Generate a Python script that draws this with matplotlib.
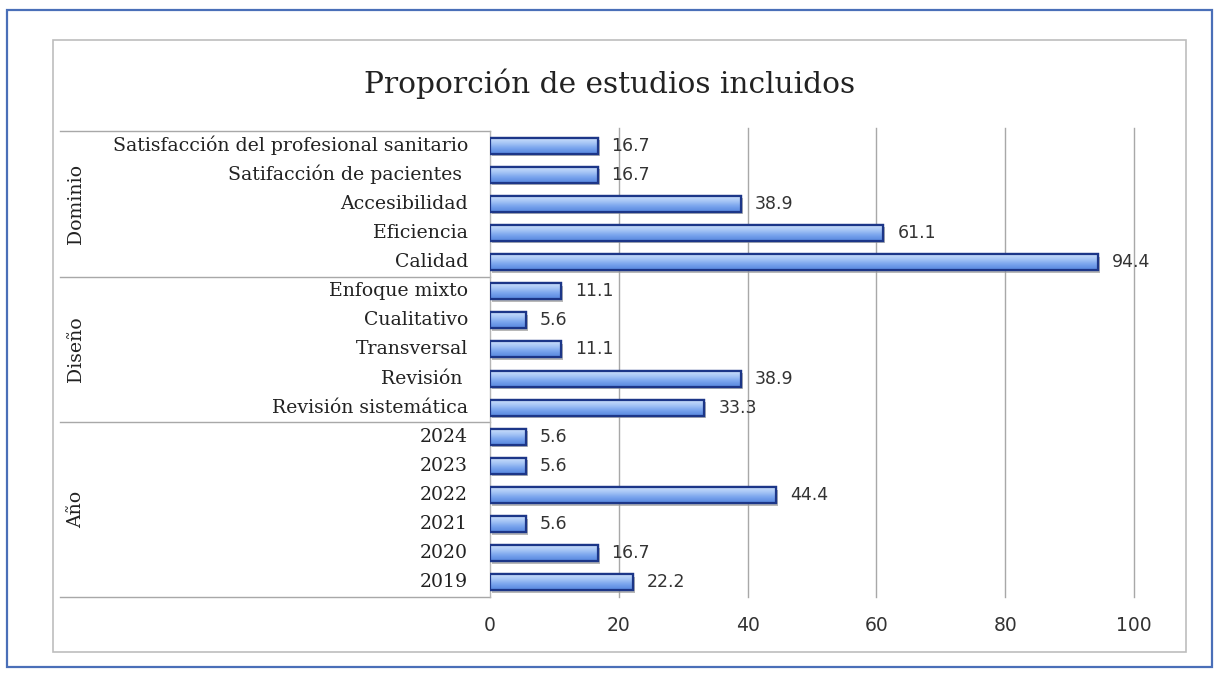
import matplotlib
matplotlib.use("Agg")
import matplotlib.pyplot as plt
import matplotlib.transforms as mtransforms
from matplotlib.patches import Rectangle
import numpy as np

title = "Proporción de estudios incluidos"
groups = ["Dominio", "Diseño", "Año"]
dominio_labels = ["Satisfacción del profesional sanitario", "Satifacción de pacientes ",
                  "Accesibilidad", "Eficiencia", "Calidad"]
dominio_values = [16.7, 16.7, 38.9, 61.1, 94.4]
diseno_labels = ["Enfoque mixto", "Cualitativo", "Transversal", "Revisión ", "Revisión sistemática"]
diseno_values = [11.1, 5.6, 11.1, 38.9, 33.3]
anio_labels = ["2024", "2023", "2022", "2021", "2020", "2019"]
anio_values = [5.6, 5.6, 44.4, 5.6, 16.7, 22.2]
xticks = [0, 20, 40, 60, 80, 100]

group_labels = [dominio_labels, diseno_labels, anio_labels]
group_values = [dominio_values, diseno_values, anio_values]
labels = dominio_labels + diseno_labels + anio_labels
values = dominio_values + diseno_values + anio_values
n = len(values)
ypos = np.arange(n)

W, H = 1220, 677
fig = plt.figure(figsize=(W / 100, H / 100), dpi=100)
fig.patch.set_facecolor("white")

def fx(px):
    return px / W

def fy(py):
    return 1 - py / H

# outer blue border
fig.patches.append(Rectangle((fx(7), fy(667)), fx(1212) - fx(7), fy(10) - fy(667),
                             transform=fig.transFigure, fill=False, edgecolor="#4a6fb8", lw=1.6))
# inner chart frame
fig.patches.append(Rectangle((fx(53), fy(652)), fx(1186) - fx(53), fy(40) - fy(652),
                             transform=fig.transFigure, fill=False, edgecolor="#bdbdbd", lw=1.2))

ax_left, ax_right = 490, 1134
ax_top, ax_bot = 131, 597
ax = fig.add_axes([fx(ax_left), fy(ax_bot), fx(ax_right) - fx(ax_left), fy(ax_top) - fy(ax_bot)])
ax.set_xlim(0, 100)
ax.set_ylim(n - 0.5, -0.5)
for s in ["top", "right", "bottom"]:
    ax.spines[s].set_visible(False)
ax.spines["left"].set_color("#b5b5b5")
ax.spines["left"].set_linewidth(1.0)
ax.set_xticks(xticks)
ax.set_xticklabels([str(t) for t in xticks], fontsize=13.5, color="#333333", family="DejaVu Sans")
ax.tick_params(axis="x", length=0, pad=14)
ax.set_yticks([])
ax.set_axisbelow(True)
for t in xticks[1:]:
    ax.plot([t, t], [n - 0.5, -0.6], color="#a8a8a8", lw=1.0, clip_on=False, zorder=0.5)

bar_h = 0.55
# shadow
shadow_tr = mtransforms.offset_copy(ax.transData, fig=fig, x=2, y=-2.5, units="dots")
ax.barh(ypos, values, height=bar_h, color="#9a9a9a", edgecolor="none",
        transform=shadow_tr, zorder=2, alpha=0.7)
bars = ax.barh(ypos, values, height=bar_h, color="#7aa7ec", edgecolor="#1c3688",
               lw=1.6, zorder=3)
# gradient fill
grad = np.linspace(0, 1, 64).reshape(-1, 1)
cmap = matplotlib.colors.LinearSegmentedColormap.from_list(
    "g", ["#d2e2fb", "#a9c8f6", "#78a3ed", "#5686de"])
for b in bars:
    x0, y0 = b.get_x(), b.get_y()
    w, h = b.get_width(), b.get_height()
    im = ax.imshow(grad, extent=(x0, x0 + w, y0 + h, y0), aspect="auto", cmap=cmap,
                   zorder=3.5, interpolation="bicubic")
    im.set_clip_path(b)
    b2 = Rectangle((x0, y0), w, h, fill=False, edgecolor="#1c3688", lw=1.6, zorder=4)
    ax.add_patch(b2)
ax.set_xlim(0, 100)
ax.set_ylim(n - 0.5, -0.5)

for y, v in zip(ypos, values):
    ax.annotate(f"{v:.1f}", (v, y), xytext=(10, 0), textcoords="offset points",
                va="center", ha="left", fontsize=12.5, color="#333333",
                family="DejaVu Sans", zorder=5)

# category labels and group separators
serif = "DejaVu Serif"
for y, lab in zip(ypos, labels):
    ax.text(-0.034, y, lab, transform=ax.get_yaxis_transform(), ha="right", va="center",
            fontsize=13.6, family=serif, color="#222222")

sep_tr = ax.get_yaxis_transform()
x_sep0 = (60 - ax_left) / (ax_right - ax_left)
start = 0
bounds = [-0.5]
for gl in group_labels:
    start += len(gl)
    bounds.append(start - 0.5)
for b in bounds:
    ax.plot([x_sep0, 0], [b, b], transform=sep_tr, color="#a8a8a8", lw=1.0,
            clip_on=False, zorder=1)
x_grp = (76 - ax_left) / (ax_right - ax_left)
for g, b0, b1 in zip(groups, bounds[:-1], bounds[1:]):
    ax.text(x_grp, (b0 + b1) / 2, g, transform=sep_tr, rotation=90, ha="center",
            va="center", fontsize=13.6, family=serif, color="#222222")

fig.text(fx(610), fy(93), title, ha="center", va="baseline", fontsize=21.3,
         family=serif, color="#222222")

fig.savefig("out.png", dpi=100, facecolor="white")
